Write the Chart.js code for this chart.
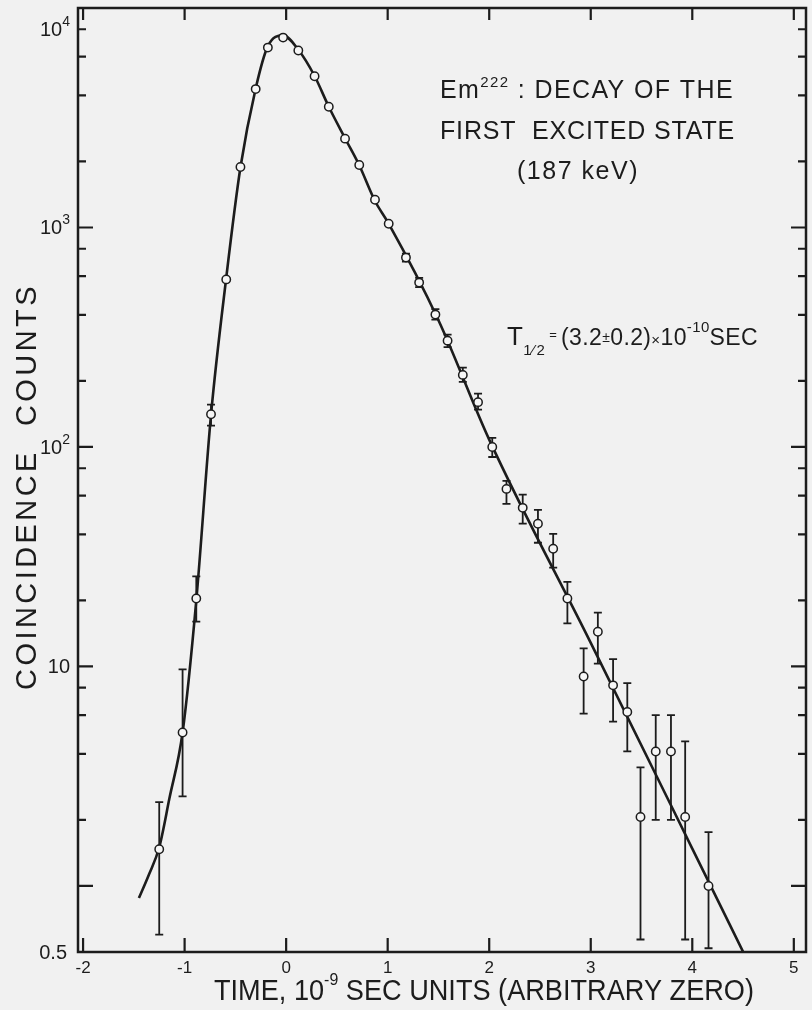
<!DOCTYPE html>
<html>
<head>
<meta charset="utf-8">
<script src="https://cdn.jsdelivr.net/npm/chart.js@4.4.1/dist/chart.umd.min.js"></script>
<style>
  html, body { margin: 0; padding: 0; background: #f1f1f1; }
  #wrap { width: 812px; height: 1010px; }
</style>
</head>
<body>
<div id="wrap"><canvas id="decay-chart" width="812" height="1010"></canvas></div>
<script>
// measured points (time in 1e-9 s, coincidence counts)
const timeNs = [-1.25, -1.02, -0.885, -0.74, -0.59, -0.45, -0.30, -0.18, -0.03, 0.12, 0.28, 0.42, 0.58, 0.72, 0.875,
                1.01, 1.18, 1.31, 1.47, 1.59, 1.74, 1.89, 2.03, 2.17, 2.33, 2.48, 2.63, 2.77, 2.93, 3.07, 3.22, 3.36,
                3.49, 3.64, 3.79, 3.93, 4.16];
const counts = [1.47, 5.0, 20.4, 141, 580, 1885, 4270, 6600, 7330, 6400, 4890, 3550, 2540, 1925, 1337,
                1040, 729, 561, 401, 305, 213, 160, 100, 64.4, 52.8, 44.7, 34.4, 20.4, 9.0, 14.4, 8.2, 6.2,
                2.06, 4.1, 4.1, 2.06, 1.0];
// error bar ends (null = hidden under the marker)
const errHigh = [2.41, 9.7, 25.7, 156, null, null, null, null, null, null, null, null, null, null, null,
                 null, 760, 590, 425, 325, 230, 175, 110, 70, 60.7, 51.7, 40.2, 24.3, 12.1, 17.6, 10.8, 8.4,
                 3.47, 6.0, 6.0, 4.56, 1.76];
const errLow  = [0.60, 2.56, 16.0, 125, null, null, null, null, null, null, null, null, null, null, null,
                 null, 700, 535, 380, 285, 198, 148, 90, 55, 44.7, 36.6, 28.2, 15.7, 6.1, 10.3, 5.6, 4.1,
                 0.57, 2.0, 2.0, 0.57, 0.52];

// fitted curve
const fitTime   = [-1.45, -1.35, -1.25, -1.15, -1.02, -0.885, -0.74, -0.59, -0.45, -0.30, -0.18, -0.03, 0.12,
                   0.28, 0.42, 0.58, 0.72, 0.875, 1.0, 1.5, 2.0, 3.0, 4.0, 4.55];
const fitCounts = [0.88, 1.13, 1.5, 2.5, 5.0, 20, 140, 590, 1880, 4300, 6700, 7500, 6450,
                   4900, 3550, 2550, 1920, 1320, 1060, 378, 108, 12.8, 1.48, 0.45];

// axis ticks
const xTickValues = [-2, -1, 0, 1, 2, 3, 4, 5];
const yTickValues = [1, 2, 4, 6, 8, 10, 20, 40, 60, 80, 100, 200, 400, 600, 800,
                     1000, 2000, 4000, 6000, 8000];
const yMajorValues = [1, 10, 100, 1000];
const yLabelValues = [0.5, 10, 100, 1000, 10000];
const yLabelTexts  = [['0.5', ''], ['10', ''], ['10', '2'], ['10', '3'], ['10', '4']];

const INK = '#1c1c1c';
const FONT = '"Liberation Sans", Arial, sans-serif';

function runsWidth(ctx, runs) {
    let w = 0;
    runs.forEach(r => {
        ctx.font = r.s + 'px ' + FONT;
        r.w = ctx.measureText(r.t).width;
        w += r.w;
    });
    return w;
}

// draw text runs (sub/superscripts) stretched to a target width
function drawRuns(ctx, runs, x, y, width) {
    ctx.save();
    ctx.letterSpacing = '0px';
    const natural = runsWidth(ctx, runs);
    const chars = runs.reduce((n, r) => n + r.t.length, 0);
    if (width === undefined) width = natural;
    let extra = (width - natural) / chars;
    let sx = 1;
    if (extra < 0) { sx = width / natural; extra = 0; }
    ctx.translate(x, y);
    ctx.scale(sx, 1);
    ctx.fillStyle = INK;
    ctx.textBaseline = 'alphabetic';
    ctx.textAlign = 'left';
    let cx = 0;
    runs.forEach(r => {
        ctx.font = r.s + 'px ' + FONT;
        ctx.letterSpacing = extra + 'px';
        ctx.fillText(r.t, cx, r.dy || 0);
        cx += r.w + extra * r.t.length;
    });
    ctx.restore();
}

const errorBars = {
    id: 'errorBars',
    beforeDatasetsDraw(chart) {
        const ctx = chart.ctx, xs = chart.scales.x, ys = chart.scales.y;
        ctx.save();
        ctx.strokeStyle = INK;
        ctx.lineWidth = 1.8;
        timeNs.forEach((t, i) => {
            if (errHigh[i] === null) return;
            const px = xs.getPixelForValue(t);
            const top = ys.getPixelForValue(errHigh[i]);
            const bot = ys.getPixelForValue(Math.max(errLow[i], 0.5));
            ctx.beginPath();
            ctx.moveTo(px, top); ctx.lineTo(px, bot);
            ctx.moveTo(px - 4, top); ctx.lineTo(px + 4, top);
            ctx.moveTo(px - 4, bot); ctx.lineTo(px + 4, bot);
            ctx.stroke();
        });
        ctx.restore();
    }
};

const frameAndText = {
    id: 'frameAndText',
    afterDraw(chart) {
        const ctx = chart.ctx, a = chart.chartArea, xs = chart.scales.x, ys = chart.scales.y;
        ctx.save();
        ctx.strokeStyle = INK;
        ctx.lineWidth = 2.5;
        ctx.strokeRect(a.left, a.top, a.right - a.left, a.bottom - a.top);

        // inward ticks on all four sides
        ctx.lineWidth = 2.2;
        ctx.beginPath();
        yTickValues.forEach(v => {
            const py = ys.getPixelForValue(v);
            const len = yMajorValues.includes(v) ? 15 : 8;
            ctx.moveTo(a.left, py); ctx.lineTo(a.left + len, py);
            ctx.moveTo(a.right, py); ctx.lineTo(a.right - len, py);
        });
        xTickValues.forEach(v => {
            const px = xs.getPixelForValue(v);
            ctx.moveTo(px, a.bottom); ctx.lineTo(px, a.bottom - 14);
            ctx.moveTo(px, a.top); ctx.lineTo(px, a.top + 12);
        });
        ctx.stroke();

        // y tick labels
        yLabelValues.forEach((v, i) => {
            const [base, sup] = yLabelTexts[i];
            const py = Math.max(ys.getPixelForValue(v), a.top + 21);
            const runs = [{ t: base, s: 20 }];
            if (sup) runs.push({ t: sup, s: 14, dy: -10 });
            const w = runsWidth(ctx, runs);
            const right = sup ? 70 : (v === 0.5 ? 67 : 70);
            drawRuns(ctx, runs, right - w, py + 7);
        });

        // axis titles
        drawRuns(ctx, [{ t: 'TIME, 10', s: 29 }, { t: '-9', s: 17, dy: -15 },
                       { t: ' SEC UNITS (ARBITRARY ZERO)', s: 29 }], 214, 1000, 540);
        ctx.save();
        ctx.translate(36, 690);
        ctx.rotate(-Math.PI / 2);
        drawRuns(ctx, [{ t: 'COINCIDENCE  COUNTS', s: 29 }], 0, 0, 407);
        ctx.restore();

        // annotations
        drawRuns(ctx, [{ t: 'Em', s: 25 }, { t: '222', s: 15, dy: -11 },
                       { t: ' : DECAY OF THE', s: 25 }], 440, 98, 294);
        drawRuns(ctx, [{ t: 'FIRST  EXCITED STATE', s: 25 }], 440, 139, 295);
        drawRuns(ctx, [{ t: '(187 keV)', s: 25 }], 517, 179, 122);
        drawRuns(ctx, [{ t: 'T', s: 26 }, { t: '1\u2044\u200A2', s: 15, dy: 10 }, { t: ' = ', s: 13, dy: -6 },
                       { t: '(3.2', s: 23 }, { t: '\u00B1', s: 14, dy: -3 }, { t: '0.2)', s: 23 },
                       { t: '\u00D7', s: 15 }, { t: '10', s: 23 }, { t: '-10', s: 15, dy: -13 },
                       { t: 'SEC', s: 23 }], 507, 345, 251);
        ctx.restore();
    }
};

const decayChart = new Chart(document.getElementById('decay-chart'), {
    type: 'line',
    data: {
        datasets: [{
            label: 'Measured',
            data: timeNs.map((t, i) => ({ x: t, y: counts[i] })),
            showLine: false,
            pointRadius: 4.2,
            pointBackgroundColor: '#f6f6f6',
            pointBorderColor: INK,
            pointBorderWidth: 1.5
        }, {
            label: 'Fit',
            data: fitTime.map((t, i) => ({ x: t, y: fitCounts[i] })),
            borderColor: INK,
            borderWidth: 2.6,
            pointRadius: 0,
            cubicInterpolationMode: 'monotone',
            fill: false
        }]
    },
    options: {
        responsive: false,
        animation: false,
        devicePixelRatio: 1,
        layout: { padding: { top: 8, right: 6, left: 0, bottom: 0 } },
        plugins: { legend: { display: false }, tooltip: { enabled: false } },
        scales: {
            x: {
                type: 'linear',
                min: -2.05,
                max: 5.12,
                grid: { display: false, drawTicks: false },
                border: { display: false },
                afterBuildTicks: s => { s.ticks = xTickValues.map(v => ({ value: v })); },
                afterFit: s => { s.height = 58; },
                ticks: {
                    color: INK,
                    padding: 6,
                    maxRotation: 0,
                    font: { family: FONT, size: 17 },
                    callback: v => String(v)
                }
            },
            y: {
                type: 'logarithmic',
                min: 0.5,
                max: 10000,
                grid: { display: false, drawTicks: false },
                border: { display: false },
                ticks: { display: false },
                afterFit: s => { s.width = 78; }
            }
        }
    },
    plugins: [errorBars, frameAndText]
});
</script>
</body>
</html>
